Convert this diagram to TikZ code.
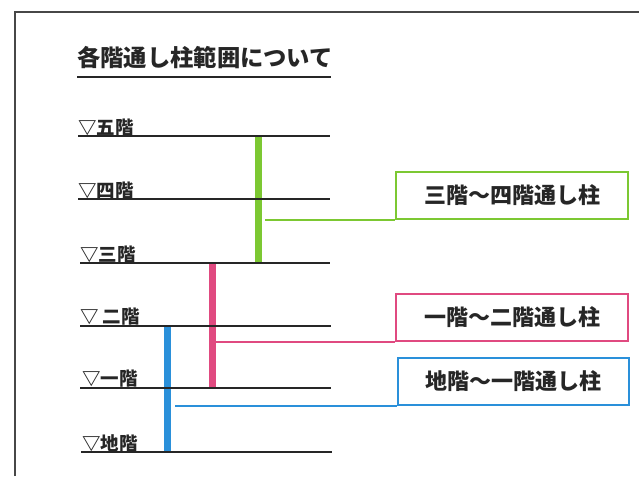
\documentclass[tikz,border=0pt]{standalone}
\usepackage{fontspec}
\newfontfamily\cjk{Noto Sans CJK JP}
\definecolor{ink}{HTML}{262626}
\definecolor{cgreen}{HTML}{7CC832}
\definecolor{cpink}{HTML}{E04A80}
\definecolor{cblue}{HTML}{2A90DA}
\begin{document}
\begin{tikzpicture}[x=1pt,y=-1pt,
  frame/.style={draw=ink!85,line width=1.8pt},
  floorline/.style={draw=ink,line width=1.8pt},
  floorlabel/.style={anchor=base west,inner sep=0pt,text=ink,font=\cjk\bfseries\fontsize{18.5}{18.5}\selectfont},
  column/.style={line width=7pt},
  leader/.style={line width=1.8pt},
  callout/.style={draw,line width=2.4pt,anchor=south west,minimum width=232pt,minimum height=47pt,inner sep=0pt,text=ink,font=\cjk\bfseries\fontsize{22}{22}\selectfont}]
\useasboundingbox (0,0) rectangle (639,476);
\draw[frame] (15,476) -- (15,12) -- (639,12);
% title
\node[anchor=base west,inner sep=0pt,text=ink,font=\cjk\bfseries\fontsize{23.3}{23.3}\selectfont] (title) at (77,67) {各階通し柱範囲について};
\draw[floorline] (77,77) -- (331,77);
% floors
\node[floorlabel] (f5) at (78,134) {▽五階};
\node[floorlabel] (f4) at (78,197) {▽四階};
\node[floorlabel] (f3) at (80,261) {▽三階};
\node[floorlabel] (f2) at (80,323) {▽ 二階};
\node[floorlabel] (f1) at (82,385) {▽一階};
\node[floorlabel] (fb) at (82,450) {▽地階};
\coordinate (l5a) at (78,136); \coordinate (l5b) at (330,136);
\coordinate (l4a) at (78,199); \coordinate (l4b) at (330,199);
\coordinate (l3a) at (80,263); \coordinate (l3b) at (330,263);
\coordinate (l2a) at (80,326); \coordinate (l2b) at (331,326);
\coordinate (l1a) at (80,388); \coordinate (l1b) at (331,388);
\coordinate (lba) at (81,452); \coordinate (lbb) at (332,452);
% columns
\coordinate (gtop) at (258,136); \coordinate (gbot) at (258,263);
\coordinate (ptop) at (212,263); \coordinate (pbot) at (212,388);
\coordinate (btop) at (167,326); \coordinate (bbot) at (167,452);
\draw[column,cgreen] (gtop) -- (gbot);
\draw[column,cpink] (ptop) -- (pbot);
\draw[column,cblue] (btop) -- (bbot);
\foreach \a/\b in {l5a/l5b,l4a/l4b,l3a/l3b,l2a/l2b,l1a/l1b,lba/lbb}
  \draw[floorline] (\a) -- (\b);
% callouts
\node[callout,draw=cgreen] (bg) at (395,220) {三階～四階通し柱};
\node[callout,draw=cpink] (bp) at (395,342) {一階～二階通し柱};
\node[callout,draw=cblue,minimum width=231pt] (bb) at (397,406) {地階～一階通し柱};
\coordinate (gl) at (265,220);
\coordinate (pl) at (216,342);
\coordinate (bl) at (175,406);
\draw[leader,cgreen] (gl) -- (bg.south west);
\draw[leader,cpink] (pl) -- (bp.south west);
\draw[leader,cblue] (bl) -- (bb.south west);
\end{tikzpicture}
\end{document}
